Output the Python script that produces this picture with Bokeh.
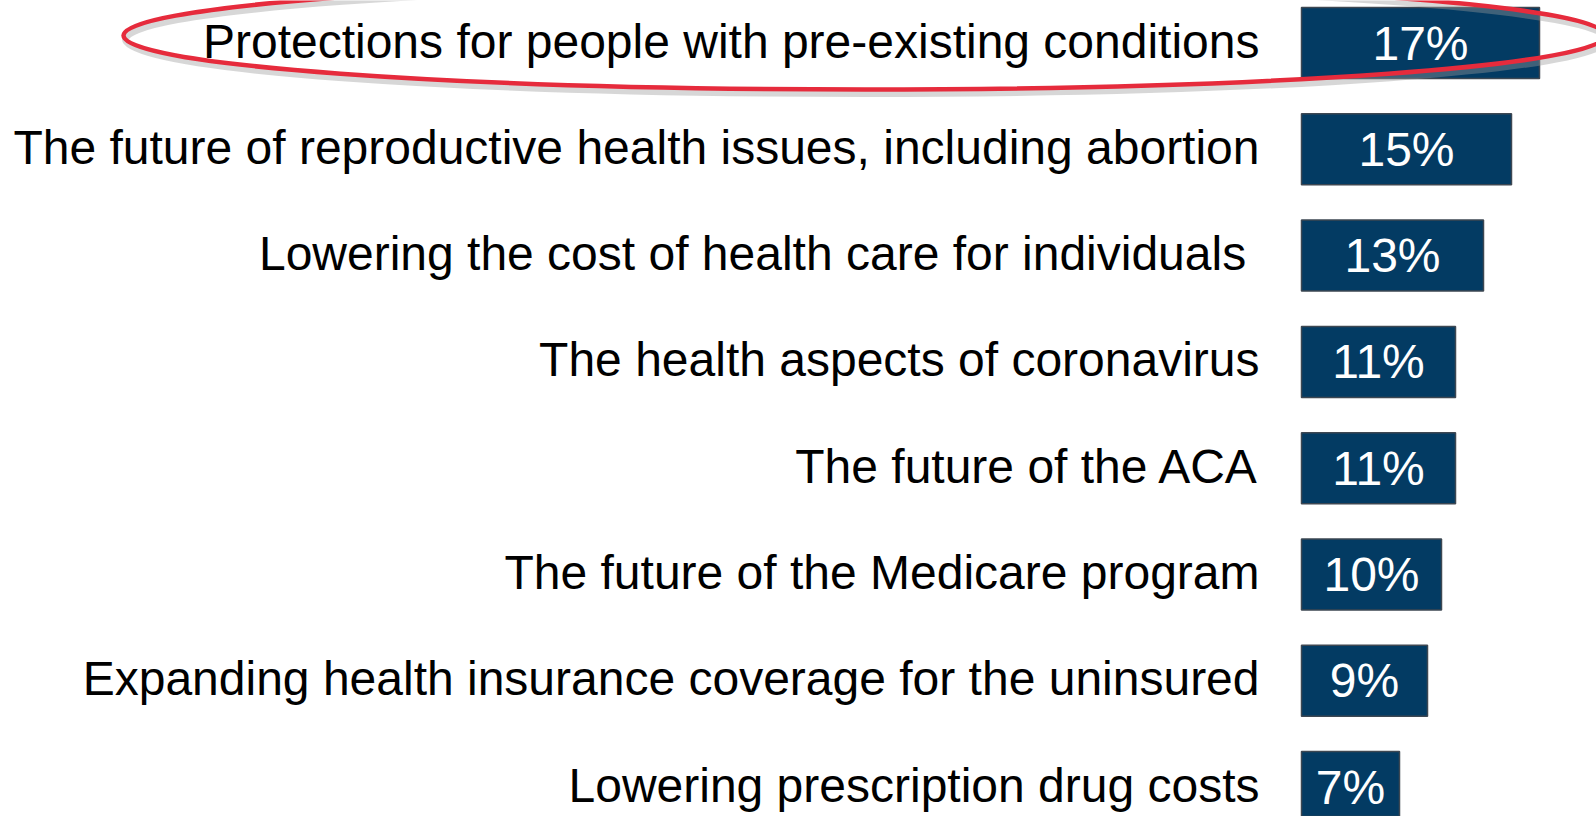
from bokeh.plotting import figure
from bokeh.models import Range1d, ColumnDataSource
from bokeh.core.properties import value
from bokeh.embed import file_html
from bokeh.resources import INLINE

# ---- data ----
categories = [
    "Protections for people with pre-existing conditions",
    "The future of reproductive health issues, including abortion",
    "Lowering the cost of health care for individuals\u00a0",
    "The health aspects of coronavirus",
    "The future of the ACA",
    "The future of the Medicare program",
    "Expanding health insurance coverage for the uninsured",
    "Lowering prescription drug costs",
]
values = [17, 15, 13, 11, 11, 10, 9, 7]
value_labels = [f"{v}%" for v in values]

# ---- layout (pixels) ----
W, H = 1596, 816
PX_PER_PCT = 14.0
X0_PX = 1301.0
ROW0_PX = 42.5
PITCH = 106.3
BAR_H = 71 / PITCH
FONT = value("Liberation Sans")

x_range = Range1d(-X0_PX / PX_PER_PCT, (W - X0_PX) / PX_PER_PCT)
y_range = Range1d((H - ROW0_PX) / PITCH, -ROW0_PX / PITCH)

p = figure(width=W, height=H, x_range=x_range, y_range=y_range,
           output_backend="svg", toolbar_location=None, min_border=0)
p.axis.visible = False
p.grid.visible = False
p.outline_line_color = None
p.background_fill_color = "white"
p.border_fill_color = "white"

rows = list(range(len(categories)))
src = ColumnDataSource(dict(
    y=rows, v=values, cat=categories, lab=value_labels,
    mid=[v / 2 for v in values],
))

p.hbar(y="y", left=0, right="v", height=BAR_H, source=src,
       fill_color="#033B63", line_color="#3D4752", line_width=1.5)

p.text(x="mid", y="y", text="lab", source=src, text_align="center",
       text_baseline="middle", text_color="white", text_font=FONT,
       text_font_size="48px", y_offset=0)

p.text(x=-3, y="y", text="cat", source=src, text_align="right",
       text_baseline="middle", text_color="black", text_font=FONT,
       text_font_size="48px", y_offset=-2)

# ---- highlight ellipse around first row ----
cx = (864 - X0_PX) / PX_PER_PCT
cy = rows[0] + (35 - ROW0_PX) / PITCH
sh_dy = 4 / PITCH
p.ellipse(x=[cx + 2 / PX_PER_PCT], y=[cy + sh_dy], width=1482, height=108,
          width_units="screen", height_units="screen",
          fill_color=None, line_color="#9A9A9A", line_alpha=0.4, line_width=7)
p.ellipse(x=[cx], y=[cy], width=1482, height=108,
          width_units="screen", height_units="screen",
          fill_color=None, line_color="#E62B3C", line_width=4.5)

open("out.html", "w").write(file_html(p, INLINE))
